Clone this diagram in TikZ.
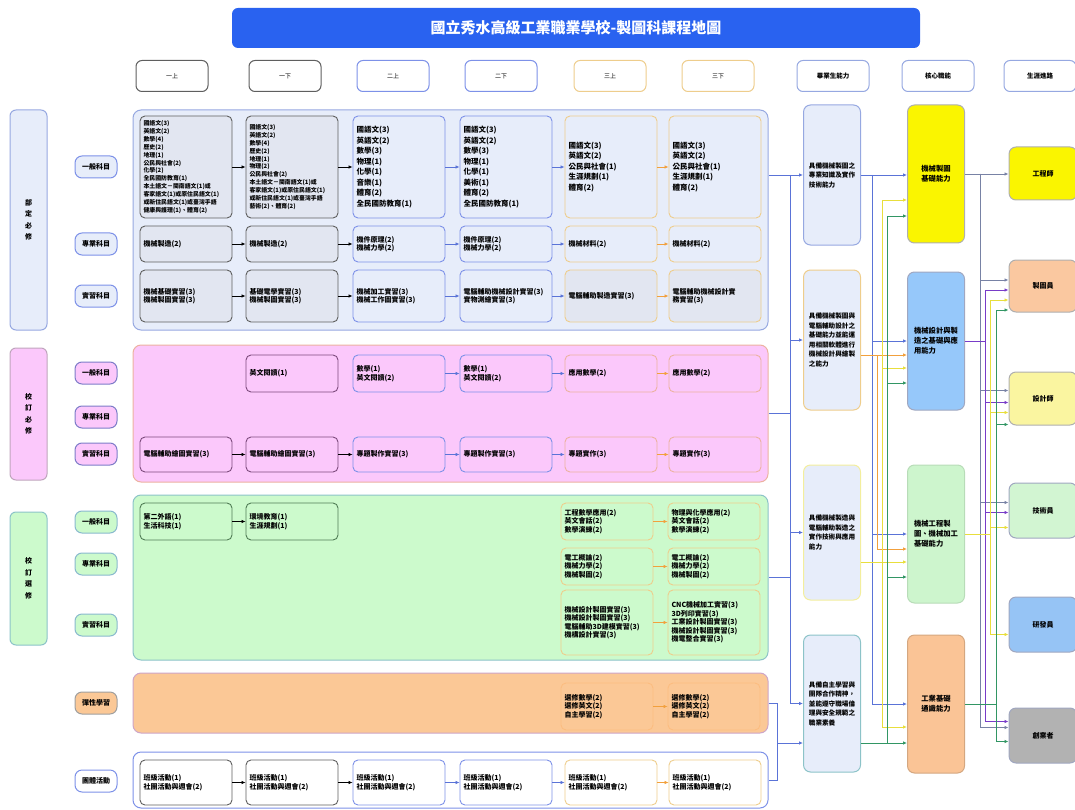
\documentclass[tikz,border=0pt]{standalone}
\usepackage{fontspec}
\setmainfont{Noto Sans CJK TC}
\usetikzlibrary{arrows.meta, positioning, calc}
\definecolor{titleblue}{RGB}{41, 98, 240}
\definecolor{reqfill}{RGB}{231, 237, 250}
\definecolor{reqline}{RGB}{150, 168, 225}
\definecolor{reqbox}{RGB}{226, 230, 241}
\definecolor{schfill}{RGB}{251, 200, 251}
\definecolor{schline}{RGB}{236, 178, 160}
\definecolor{schdark}{RGB}{125, 75, 125}
\definecolor{elefill}{RGB}{204, 250, 204}
\definecolor{eleline}{RGB}{140, 195, 200}
\definecolor{eledark}{RGB}{80, 125, 85}
\definecolor{flexfill}{RGB}{251, 200, 150}
\definecolor{flexline}{RGB}{205, 165, 200}
\definecolor{darkline}{RGB}{95, 95, 95}
\definecolor{blueline}{RGB}{125, 145, 232}
\definecolor{tanline}{RGB}{238, 205, 140}
\definecolor{linkblue}{RGB}{90, 115, 215}
\definecolor{linkorange}{RGB}{242, 160, 60}
\definecolor{linkyellow}{RGB}{232, 222, 60}
\definecolor{linkgreen}{RGB}{50, 150, 100}
\definecolor{linkpurple}{RGB}{120, 60, 200}
\definecolor{linkgray}{RGB}{120, 130, 165}
\definecolor{gryellow}{RGB}{250, 245, 0}
\definecolor{grblue}{RGB}{150, 200, 250}
\definecolor{grgreen}{RGB}{205, 245, 205}
\definecolor{grorange}{RGB}{250, 196, 150}
\definecolor{joborange}{RGB}{250, 200, 160}
\definecolor{jobyellow}{RGB}{250, 245, 160}
\definecolor{jobgreen}{RGB}{210, 245, 210}
\definecolor{jobblue}{RGB}{150, 196, 245}
\definecolor{jobgray}{RGB}{178, 178, 178}

\begin{document}
\begin{tikzpicture}[x=1pt, y=-1pt,
    course/.style={rectangle, rounded corners=5pt, line width=0.9pt, align=left, font=\fontsize{7}{8.5}\selectfont\bfseries, minimum width=92pt, text width=85pt, inner sep=3pt},
    yr1/.style={course, draw=darkline},
    yr2/.style={course, draw=blueline},
    yr3/.style={course, draw=tanline},
    dense/.style={font=\fontsize{5.9}{7.9}\selectfont\bfseries},
    loose/.style={font=\fontsize{7.5}{10.5}\selectfont\bfseries},
    section/.style={rectangle, rounded corners=8pt, line width=1pt, minimum width=635pt},
    pill/.style={rectangle, rounded corners=7pt, line width=1pt, minimum width=42pt, minimum height=22pt, inner sep=1pt, font=\fontsize{7}{8}\selectfont\bfseries},
    head/.style={rectangle, rounded corners=6pt, line width=1pt, fill=white, minimum width=72pt, minimum height=31pt, font=\fontsize{6}{7}\selectfont},
    cat/.style={rectangle, rounded corners=6pt, line width=1pt, minimum width=37pt, align=center, font=\fontsize{7}{11.5}\selectfont\bfseries},
    skill/.style={rectangle, rounded corners=7pt, line width=1pt, minimum width=57pt, align=left, inner sep=2pt, font=\fontsize{6.6}{9.5}\selectfont\bfseries},
    core/.style={skill, font=\fontsize{7.3}{10}\selectfont\bfseries},
    job/.style={rectangle, rounded corners=7pt, line width=1pt, minimum width=68pt, font=\fontsize{7}{8}\selectfont\bfseries},
    tip/.style={-{Latex[length=4pt, width=3.5pt]}},
    arrk/.style={tip, line width=0.7pt, black},
    arrb/.style={tip, line width=0.7pt, linkblue},
    arro/.style={tip, line width=0.7pt, linkorange},
    bl/.style={line width=0.8pt, linkblue},
    ol/.style={line width=0.8pt, linkorange},
    yl/.style={line width=0.8pt, linkyellow},
    gl/.style={line width=0.8pt, linkgreen},
    pl/.style={line width=0.8pt, linkpurple},
    gyl/.style={line width=0.8pt, linkgray}]
    \useasboundingbox (0,0) rectangle (1075,810);

    % Title
    \node[rectangle, rounded corners=6pt, fill=titleblue, minimum width=688pt, minimum height=40pt, text=white, font=\fontsize{15}{18}\selectfont\bfseries] (title) at (576,28) {國立秀水高級工業職業學校-製圖科課程地圖};

    % Headers
    \node[head, draw=darkline] (h1) at (172,76) {一上};
    \node[head, draw=darkline] (h2) at (285,76) {一下};
    \node[head, draw=blueline] (h3) at (393,76) {二上};
    \node[head, draw=blueline] (h4) at (501,76) {二下};
    \node[head, draw=tanline] (h5) at (610,76) {三上};
    \node[head, draw=tanline] (h6) at (718,76) {三下};
    \node[head, draw=reqline, font=\fontsize{6.5}{7}\selectfont\bfseries] (h7) at (833,76) {畢業生能力};
    \node[head, draw=reqline, font=\fontsize{6.5}{7}\selectfont\bfseries] (h8) at (938,76) {核心職能};
    \node[head, draw=reqline, font=\fontsize{6.5}{7}\selectfont\bfseries] (h9) at (1040,76) {生涯進路};

    % Categories
    \node[cat, draw=reqline, fill=reqfill, minimum height=220pt] (k1) at (28.5,220) {部\\定\\必\\修};
    \node[cat, draw=schline!60!blueline, fill=schfill, minimum height=132pt] (k2) at (28.5,414) {校\\訂\\必\\修};
    \node[cat, draw=eleline, fill=elefill, minimum height=133pt] (k3) at (28.5,578.5) {校\\訂\\選\\修};

    \node[pill, draw=blueline, fill=reqfill] (t11) at (96,167) {一般科目};
    \node[pill, draw=blueline, fill=reqfill] (t12) at (96,244) {專業科目};
    \node[pill, draw=blueline, fill=reqfill] (t13) at (96,296) {實習科目};
    \node[pill, draw=blueline!70!schdark, fill=schfill] (t21) at (96,373) {一般科目};
    \node[pill, draw=blueline!70!schdark, fill=schfill] (t22) at (96,417) {專業科目};
    \node[pill, draw=blueline!70!schdark, fill=schfill] (t23) at (96,454) {實習科目};
    \node[pill, draw=eleline!80!blueline, fill=elefill] (t31) at (96,522) {一般科目};
    \node[pill, draw=eleline!80!blueline, fill=elefill] (t32) at (96,564) {專業科目};
    \node[pill, draw=eleline!80!blueline, fill=elefill] (t33) at (96,625) {實習科目};
    \node[pill, draw=darkline!60, fill=flexfill] (t4) at (96,703) {彈性學習};
    \node[pill, draw=blueline, fill=white] (t5) at (96,781) {團體活動};

    % Sections
    \node[section, draw=reqline, fill=reqfill, minimum height=220pt] (secreq) at (450.5,220) {};
    \node[section, draw=schline, fill=schfill, minimum height=137pt] (secsch) at (450.5,413.5) {};
    \node[section, draw=eleline, fill=elefill, minimum height=165pt] (secele) at (450.5,577.5) {};
    \node[section, draw=flexline, fill=flexfill, minimum height=60pt] (secflex) at (450.5,703) {};
    \node[section, draw=blueline, fill=white, minimum height=56pt] (secgrp) at (450.5,780) {};

    % Required: general
    \node[yr1, dense, fill=reqbox, minimum height=102pt] (g11) at (186,167) {國語文(3)\\英語文(2)\\數學(4)\\歷史(2)\\地理(1)\\公民與社會(2)\\化學(2)\\全民國防教育(1)\\本土語文－閩南語文(1)或\\客家語文(1)或原住民語文(1)\\或新住民語文(1)或臺灣手語\\健康與護理(1)、體育(2)};
    \node[yr1, dense, fill=reqbox, minimum height=102pt] (g12) at (292,167) {國語文(3)\\英語文(2)\\數學(4)\\歷史(2)\\地理(1)\\物理(2)\\公民與社會(2)\\本土語文－閩南語文(1)或\\客家語文(1)或原住民語文(1)\\或新住民語文(1)或臺灣手語\\藝術(2)、體育(2)};
    \node[yr2, loose, fill=reqfill, minimum height=102pt] (g13) at (399,167) {國語文(3)\\英語文(2)\\數學(3)\\物理(1)\\化學(1)\\音樂(1)\\體育(2)\\全民國防教育(1)};
    \node[yr2, loose, fill=reqfill, minimum height=102pt] (g14) at (506,167) {國語文(3)\\英語文(2)\\數學(3)\\物理(1)\\化學(1)\\美術(1)\\體育(2)\\全民國防教育(1)};
    \node[yr3, loose, fill=reqfill, minimum height=102pt] (g15) at (611,167) {國語文(3)\\英語文(2)\\公民與社會(1)\\生涯規劃(1)\\體育(2)};
    \node[yr3, loose, fill=reqfill, minimum height=102pt] (g16) at (715,167) {國語文(3)\\英語文(2)\\公民與社會(1)\\生涯規劃(1)\\體育(2)};

    % Required: professional
    \node[yr1, fill=reqbox, minimum height=36pt] (p11) at (186,244) {機械製造(2)};
    \node[yr1, fill=reqbox, minimum height=36pt] (p12) at (292,244) {機械製造(2)};
    \node[yr2, fill=reqfill, minimum height=36pt] (p13) at (399,244) {機件原理(2)\\機械力學(2)};
    \node[yr2, fill=reqfill, minimum height=36pt] (p14) at (506,244) {機件原理(2)\\機械力學(2)};
    \node[yr3, fill=reqfill, minimum height=36pt] (p15) at (611,244) {機械材料(2)};
    \node[yr3, fill=reqfill, minimum height=36pt] (p16) at (715,244) {機械材料(2)};

    % Required: practice
    \node[yr1, fill=reqbox, minimum height=52pt] (l11) at (186,296) {機械基礎實習(3)\\機械製圖實習(3)};
    \node[yr1, fill=reqbox, minimum height=52pt] (l12) at (292,296) {基礎電學實習(3)\\機械製圖實習(3)};
    \node[yr2, fill=reqfill, minimum height=52pt] (l13) at (399,296) {機械加工實習(3)\\機械工作圖實習(3)};
    \node[yr2, fill=reqfill, minimum height=52pt] (l14) at (506,296) {電腦輔助機械設計實習(3)\\實物測繪實習(3)};
    \node[yr3, fill=reqbox, minimum height=52pt] (l15) at (611,296) {電腦輔助製造實習(3)};
    \node[yr3, fill=reqbox, minimum height=52pt] (l16) at (715,296) {電腦輔助機械設計實\\務實習(3)};

    % School required
    \node[yr1, draw=schdark, fill=schfill, minimum height=37pt] (s12) at (292,373.5) {英文閱讀(1)};
    \node[yr2, fill=schfill, minimum height=37pt] (s13) at (399,373.5) {數學(1)\\英文閱讀(2)};
    \node[yr2, fill=schfill, minimum height=37pt] (s14) at (506,373.5) {數學(1)\\英文閱讀(2)};
    \node[yr3, draw=schline, fill=schfill, minimum height=37pt] (s15) at (611,373.5) {應用數學(2)};
    \node[yr3, draw=schline, fill=schfill, minimum height=37pt] (s16) at (715,373.5) {應用數學(2)};
    \node[yr1, draw=schdark, fill=schfill, minimum height=35pt] (s31) at (186,454.5) {電腦輔助繪圖實習(3)};
    \node[yr1, draw=schdark, fill=schfill, minimum height=35pt] (s32) at (292,454.5) {電腦輔助繪圖實習(3)};
    \node[yr2, fill=schfill, minimum height=35pt] (s33) at (399,454.5) {專題製作實習(3)};
    \node[yr2, fill=schfill, minimum height=35pt] (s34) at (506,454.5) {專題製作實習(3)};
    \node[yr3, draw=schline, fill=schfill, minimum height=35pt] (s35) at (611,454.5) {專題實作(3)};
    \node[yr3, draw=schline, fill=schfill, minimum height=35pt] (s36) at (715,454.5) {專題實作(3)};

    % School elective
    \node[yr1, draw=eledark, fill=elefill, minimum height=37pt] (e11) at (186,521.5) {第二外語(1)\\生活科技(1)};
    \node[yr1, draw=eledark, fill=elefill, minimum height=37pt] (e12) at (292,521.5) {環境教育(1)\\生涯規劃(1)};
    \node[yr3, fill=elefill, minimum height=37pt] (e15) at (607,521.5) {工程數學應用(2)\\英文會話(2)\\數學演練(2)};
    \node[yr3, fill=elefill, minimum height=37pt] (e16) at (714,521.5) {物理與化學應用(2)\\英文會話(2)\\數學演練(2)};
    \node[yr3, fill=elefill, minimum height=37pt] (e25) at (607,566.5) {電工概論(2)\\機械力學(2)\\機械製圖(2)};
    \node[yr3, fill=elefill, minimum height=37pt] (e26) at (714,566.5) {電工概論(2)\\機械力學(2)\\機械製圖(2)};
    \node[yr3, fill=elefill, minimum height=65pt] (e35) at (607,622.5) {機械設計製圖實習(3)\\機械設計製圖實習(3)\\電腦輔助3D建模實習(3)\\機構設計實習(3)};
    \node[yr3, fill=elefill, minimum height=65pt] (e36) at (714,622.5) {CNC機械加工實習(3)\\3D列印實習(3)\\工業設計製圖實習(3)\\機械設計製圖實習(3)\\機電整合實習(3)};

    % Flexible
    \node[yr3, draw=flexfill!85!orange, fill=flexfill, minimum height=47pt] (f5) at (607,706.5) {選修數學(2)\\選修英文(2)\\自主學習(2)};
    \node[yr3, draw=flexfill!85!orange, fill=flexfill, minimum height=47pt] (f6) at (714,706.5) {選修數學(2)\\選修英文(2)\\自主學習(2)};

    % Group activities
    \node[yr1, fill=white, minimum height=45pt] (a1) at (186,782.5) {班級活動(1)\\社團活動與週會(2)};
    \node[yr1, fill=white, minimum height=45pt] (a2) at (292,782.5) {班級活動(1)\\社團活動與週會(2)};
    \node[yr2, fill=white, minimum height=45pt] (a3) at (399,782.5) {班級活動(1)\\社團活動與週會(2)};
    \node[yr2, fill=white, minimum height=45pt] (a4) at (506,782.5) {班級活動(1)\\社團活動與週會(2)};
    \node[yr3, fill=white, minimum height=45pt] (a5) at (611,782.5) {班級活動(1)\\社團活動與週會(2)};
    \node[yr3, fill=white, minimum height=45pt] (a6) at (715,782.5) {班級活動(1)\\社團活動與週會(2)};

    % Course arrows
    \draw[arrk] (g11) -- (g12); \draw[arrk] (g12) -- (g13); \draw[arrb] (g13) -- (g14); \draw[arrb] (g14) -- (g15); \draw[arro] (g15) -- (g16);
    \draw[arrk] (p11) -- (p12); \draw[arrk] (p12) -- (p13); \draw[arrb] (p13) -- (p14); \draw[arrb] (p14) -- (p15); \draw[arro] (p15) -- (p16);
    \draw[arrk] (l11) -- (l12); \draw[arrk] (l12) -- (l13); \draw[arrb] (l13) -- (l14); \draw[arrb] (l14) -- (l15); \draw[arro] (l15) -- (l16);
    \draw[arrb] (s13) -- (s14); \draw[arrb] (s14) -- (s15); \draw[arro] (s15) -- (s16);
    \draw[arrk] (s31) -- (s32); \draw[arrk] (s32) -- (s33); \draw[arrb] (s33) -- (s34); \draw[arrb] (s34) -- (s35); \draw[arro] (s35) -- (s36);
    \draw[arrk] (e11) -- (e12);
    \draw[arro] (e15) -- (e16); \draw[arro] (e25) -- (e26); \draw[arro] (e35) -- (e36);
    \draw[arro] (f5) -- (f6);
    \draw[arrk] (a1) -- (a2); \draw[arrk] (a2) -- (a3); \draw[arrb] (a3) -- (a4); \draw[arrb] (a4) -- (a5); \draw[arro] (a5) -- (a6);

    % Graduate abilities
    \node[skill, draw=reqline, fill=reqfill, minimum height=140pt] (gr1) at (832,175) {具備機械製圖之\\專業知識及實作\\技術能力};
    \node[skill, draw=tanline, fill=reqfill, minimum height=140pt] (gr2) at (832,340) {具備機械製圖與\\電腦輔助設計之\\基礎能力並能運\\用相關軟體進行\\機械設計與繪製\\之能力};
    \node[skill, draw=linkyellow!50, fill=reqfill, minimum height=135pt] (gr3) at (832,532.5) {具備機械製造與\\電腦輔助製造之\\實作技術與應用\\能力};
    \node[skill, draw=eleline, fill=reqfill, minimum height=137pt] (gr4) at (832,703.5) {具備自主學習與\\團隊合作精神，\\並能遵守職場倫\\理與安全規範之\\職業素養};

    % Core competences
    \node[core, draw=darkline!50, fill=gryellow, minimum height=138pt] (core1) at (936,174) {機械製圖\\基礎能力};
    \node[core, draw=linkgray!70, fill=grblue, minimum height=138pt] (core2) at (936,341) {機械設計與製\\造之基礎與應\\用能力};
    \node[core, draw=grgreen!90!black, fill=grgreen, minimum height=138pt] (core3) at (936,534) {機械工程製\\圖、機械加工\\基礎能力};
    \node[core, draw=grorange!85!black, fill=grorange, minimum height=138pt] (core4) at (936,704) {工業基礎\\通識能力};

    % Careers
    \node[job, draw=darkline!50, fill=gryellow, minimum height=53pt] (job1) at (1043,173.5) {工程師};
    \node[job, draw=darkline!50, fill=joborange, minimum height=52pt] (job2) at (1043,286) {製圖員};
    \node[job, draw=darkline!50, fill=jobyellow, minimum height=53pt] (job3) at (1043,398.5) {設計師};
    \node[job, draw=linkgray!70, fill=jobgreen, minimum height=55pt] (job4) at (1043,510.5) {技術員};
    \node[job, draw=linkgray!70, fill=jobblue, minimum height=55pt] (job5) at (1043,624.5) {研發員};
    \node[job, draw=linkgray!70, fill=jobgray, minimum height=55pt] (job6) at (1043,735.5) {創業者};

    % Sections to abilities
    \coordinate (sbus) at (790,175);
    \draw[bl, tip] (secreq.east |- gr1.west) -- (gr1.west);
    \draw[bl] (sbus) -- (sbus |- gr4.west);
    \draw[bl, tip] (sbus |- gr2.west) -- (gr2.west);
    \draw[bl, tip] (sbus |- gr3.west) -- (gr3.west);
    \draw[bl, tip] (sbus |- gr4.west) -- (gr4.west);
    \draw[bl] (secsch.east) -- (secsch.east -| sbus);
    \draw[bl] (secele.east) -- (secele.east -| sbus);
    \coordinate (fbus) at (777,743);
    \draw[bl] (secflex.east) -| (fbus) |- (secgrp.east);
    \draw[bl, tip] (fbus) -- (fbus -| gr4.west);

    % Abilities to competences
    \coordinate (bbus) at (872,175);
    \draw[bl, tip] (gr1.east) -- (gr1.east -| core1.west);
    \draw[bl] (bbus) -- (bbus |- core4.west);
    \draw[bl, tip] (bbus |- core2.west) -- (core2.west);
    \draw[bl, tip] (bbus |- core3.west) -- (core3.west);
    \draw[bl, tip] (bbus |- core4.west) -- (core4.west);

    \coordinate (obus) at (877,355);
    \draw[ol, tip] (gr2.east |- obus) -- (core2.west |- obus);
    \draw[ol, tip] (obus) |- ([yshift=-15pt]core3.west);

    \coordinate (ybus) at (882,562);
    \draw[yl, tip] (gr3.east |- ybus) -- (core3.west |- ybus);
    \draw[yl, tip] (ybus) |- ([yshift=-26pt]core1.west);
    \draw[yl, tip] (ybus) |- ([yshift=-27pt]core2.west);
    \draw[yl, tip] (ybus) |- ([yshift=-23pt]core4.west);

    \coordinate (gbus) at (887,743);
    \draw[gl, tip] (gr4.east |- gbus) -- (core4.west |- gbus);
    \draw[gl, tip] (gbus) |- ([yshift=-42pt]core1.west);
    \draw[gl, tip] (gbus) |- ([yshift=-42pt]core2.west);
    \draw[gl, tip] (gbus) |- ([yshift=-43pt]core3.west);

    % Competences to careers
    \coordinate (jbus1) at (980,174);
    \draw[gyl, tip] (core1.east) -- (core1.east -| job1.west);
    \draw[gyl, tip] (jbus1) |- ([yshift=6pt]job2.west);
    \draw[gyl, tip] (jbus1) |- ([yshift=8pt]job3.west);
    \draw[gyl, tip] (jbus1) |- ([yshift=8pt]job4.west);
    \draw[gyl, tip] (jbus1) |- ([yshift=8pt]job6.west);

    \coordinate (jbus2) at (985,341);
    \draw[pl] (core2.east) -- (jbus2);
    \draw[pl, tip] (jbus2) |- ([yshift=-4pt]job2.west);
    \draw[pl, tip] (jbus2) |- ([yshift=-4pt]job3.west);
    \draw[pl, tip] (jbus2) |- ([yshift=-2pt]job4.west);
    \draw[pl, tip] (jbus2) |- ([yshift=14pt]job6.west);

    \coordinate (jbus3) at (990,534);
    \draw[yl] (core3.east) -- (jbus3);
    \draw[yl, tip] (jbus3) |- ([yshift=-14pt]job2.west);
    \draw[yl, tip] (jbus3) |- ([yshift=-14pt]job3.west);
    \draw[yl, tip] (jbus3) |- ([yshift=-17pt]job4.west);
    \draw[yl, tip] (jbus3) |- ([yshift=-10pt]job5.west);

    \coordinate (jbus4) at (996,704);
    \draw[gl] (core4.east) -- (jbus4);
    \draw[gl, tip] (jbus4) |- ([yshift=-24pt]job2.west);
    \draw[gl, tip] (jbus4) |- ([yshift=-26pt]job3.west);
    \draw[gl, tip] (jbus4) |- ([yshift=-6pt]job6.west);
\end{tikzpicture}
\end{document}
